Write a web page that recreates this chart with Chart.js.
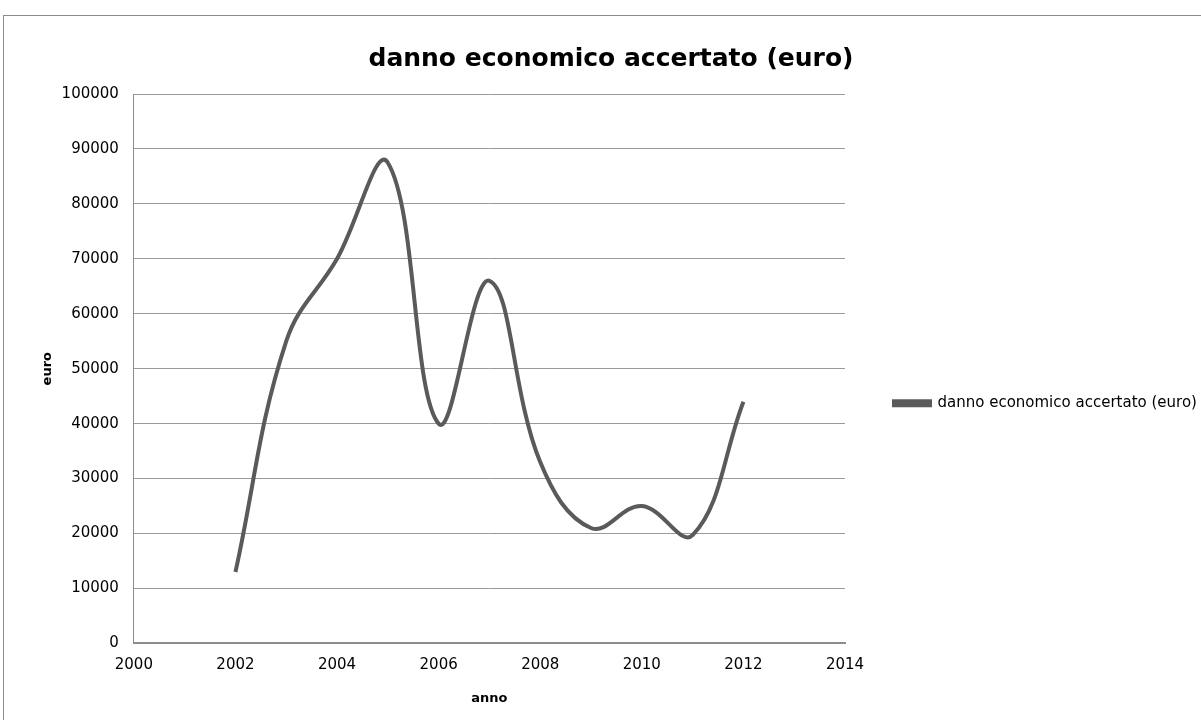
<!DOCTYPE html>
<html>
<head>
    <meta charset="utf-8">
    <title>danno economico accertato</title>
    <script src="https://cdn.jsdelivr.net/npm/chart.js@4.4.1/dist/chart.umd.min.js"></script>
    <style>
        body { margin: 0; background: #fff; overflow: hidden; }
        #wrap { position: relative; width: 1201px; height: 720px; }
        #frame {
            position: absolute; left: 3px; top: 15px; width: 1300px; height: 800px;
            border-top: 1px solid #8c8c8c; border-left: 1px solid #8c8c8c;
        }
        #chart { position: absolute; left: 0; top: 0; }
    </style>
</head>
<body>
<div id="wrap">
    <div id="frame"></div>
    <canvas id="chart" width="1201" height="720"></canvas>
</div>
<script>
    var anni = [2002, 2003, 2004, 2005, 2006, 2007, 2008, 2009, 2010, 2011, 2012];
    var danno = [13000, 55000, 70000, 87500, 40000, 66000, 33000, 21000, 25000, 19700, 44000];
    var titolo = 'danno economico accertato (euro)';

    var punti = anni.map(function (a, i) { return { x: a, y: danno[i] }; });

    Chart.defaults.font.family = 'DejaVu Sans';
    Chart.defaults.color = '#000';

    var grigio = '#5a5a5a';

    var ctx = document.getElementById('chart');
    new Chart(ctx, {
        type: 'line',
        data: {
            datasets: [{
                label: titolo,
                data: punti,
                borderColor: grigio,
                backgroundColor: grigio,
                borderWidth: 4,
                pointRadius: 0,
                tension: 0.4,
                fill: false
            }]
        },
        options: {
            responsive: false,
            animation: false,
            layout: { padding: { left: 21, right: 0, top: 20, bottom: 10 } },
            plugins: {
                title: {
                    display: true,
                    text: titolo,
                    font: { size: 25, weight: 'bold' },
                    padding: { top: 24, bottom: 20 }
                },
                legend: {
                    position: 'right',
                    align: 'center',
                    maxWidth: 356,
                    // empty title only pushes the entry a bit lower
                    title: { display: true, text: ' ', font: { size: 12 }, padding: { top: 0, bottom: 62 } },
                    labels: {
                        // a short thick bar stands in for the line sample
                        boxWidth: 36,
                        boxHeight: 4,
                        padding: 49,
                        font: { size: 15 }
                    }
                },
                tooltip: { enabled: false }
            },
            scales: {
                x: {
                    type: 'linear',
                    min: 2000,
                    max: 2014,
                    ticks: { stepSize: 2, font: { size: 15 }, padding: 13,
                        callback: function (v) { return String(v); } },
                    grid: { display: false, drawTicks: false },
                    border: { color: '#8c8c8c', width: 2 },
                    title: { display: true, text: 'anno', font: { size: 13, weight: 'bold' }, padding: { top: 3 } }
                },
                y: {
                    min: 0,
                    max: 100000,
                    ticks: { stepSize: 10000, font: { size: 15 }, padding: 15,
                        callback: function (v) { return String(v); } },
                    grid: { color: '#9a9a9a', drawTicks: false },
                    border: { color: '#8c8c8c' },
                    title: { display: true, text: 'euro', font: { size: 13, weight: 'bold' }, padding: { top: 19, bottom: -9 } }
                }
            }
        }
    });
</script>
</body>
</html>
